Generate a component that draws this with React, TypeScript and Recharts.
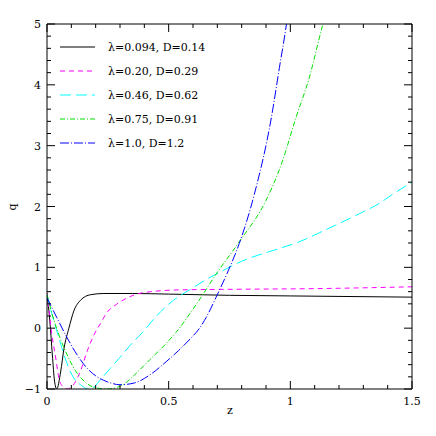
import { LineChart, Line, XAxis, YAxis } from 'recharts';

// curve samples: z along x, q up the side
const curveBlack = [
  { z: 0, q: 0.52 }, { z: 0.006, q: 0.35 }, { z: 0.012, q: 0.1 }, { z: 0.022, q: -0.44 },
  { z: 0.031, q: -0.87 }, { z: 0.04, q: -1.0 }, { z: 0.056, q: -0.72 }, { z: 0.07, q: -0.33 },
  { z: 0.09, q: 0.0 }, { z: 0.11, q: 0.28 }, { z: 0.138, q: 0.46 }, { z: 0.179, q: 0.55 },
  { z: 0.234, q: 0.57 }, { z: 0.35, q: 0.57 }, { z: 0.5, q: 0.56 }, { z: 0.75, q: 0.54 },
  { z: 1.0, q: 0.53 }, { z: 1.5, q: 0.51 },
];

const curveMagenta = [
  { z: 0, q: 0.58 }, { z: 0.008, q: 0.3 }, { z: 0.018, q: -0.05 }, { z: 0.036, q: -0.49 },
  { z: 0.049, q: -0.82 }, { z: 0.065, q: -0.96 }, { z: 0.083, q: -1.0 }, { z: 0.1, q: -0.97 },
  { z: 0.117, q: -0.88 }, { z: 0.138, q: -0.7 }, { z: 0.165, q: -0.38 }, { z: 0.193, q: -0.11 },
  { z: 0.22, q: 0.08 }, { z: 0.245, q: 0.25 }, { z: 0.285, q: 0.39 }, { z: 0.326, q: 0.49 },
  { z: 0.39, q: 0.58 }, { z: 0.55, q: 0.63 }, { z: 0.8, q: 0.64 }, { z: 1.1, q: 0.65 },
  { z: 1.5, q: 0.68 },
];

const curveCyan = [
  { z: 0, q: 0.56 }, { z: 0.012, q: 0.35 }, { z: 0.029, q: 0.11 }, { z: 0.049, q: -0.16 },
  { z: 0.07, q: -0.44 }, { z: 0.09, q: -0.66 }, { z: 0.11, q: -0.82 }, { z: 0.138, q: -0.93 },
  { z: 0.17, q: -1.0 }, { z: 0.195, q: -0.96 }, { z: 0.217, q: -0.86 }, { z: 0.26, q: -0.66 },
  { z: 0.3, q: -0.48 }, { z: 0.34, q: -0.29 }, { z: 0.39, q: -0.08 }, { z: 0.45, q: 0.2 },
  { z: 0.52, q: 0.46 }, { z: 0.586, q: 0.63 }, { z: 0.65, q: 0.79 }, { z: 0.71, q: 0.92 },
  { z: 0.8, q: 1.1 }, { z: 0.955, q: 1.31 }, { z: 1.037, q: 1.42 }, { z: 1.12, q: 1.57 },
  { z: 1.2, q: 1.72 }, { z: 1.283, q: 1.88 }, { z: 1.365, q: 2.05 }, { z: 1.42, q: 2.2 },
  { z: 1.5, q: 2.4 },
];

const curveGreen = [
  { z: 0, q: 0.55 }, { z: 0.022, q: 0.22 }, { z: 0.049, q: -0.11 }, { z: 0.083, q: -0.44 },
  { z: 0.117, q: -0.7 }, { z: 0.152, q: -0.87 }, { z: 0.193, q: -0.97 }, { z: 0.245, q: -1.0 },
  { z: 0.29, q: -0.97 }, { z: 0.32, q: -0.91 }, { z: 0.354, q: -0.79 }, { z: 0.422, q: -0.52 },
  { z: 0.49, q: -0.25 }, { z: 0.53, q: -0.07 }, { z: 0.62, q: 0.43 }, { z: 0.697, q: 0.9 },
  { z: 0.79, q: 1.42 }, { z: 0.9, q: 2.1 }, { z: 0.968, q: 2.75 }, { z: 1.023, q: 3.46 },
  { z: 1.078, q: 4.12 }, { z: 1.13, q: 4.94 }, { z: 1.17, q: 5.5 },
];

const curveBlue = [
  { z: 0, q: 0.5 }, { z: 0.042, q: 0.16 }, { z: 0.083, q: -0.16 }, { z: 0.124, q: -0.44 },
  { z: 0.165, q: -0.66 }, { z: 0.206, q: -0.8 }, { z: 0.247, q: -0.88 }, { z: 0.3, q: -0.93 },
  { z: 0.36, q: -0.9 }, { z: 0.422, q: -0.77 }, { z: 0.49, q: -0.55 }, { z: 0.54, q: -0.37 },
  { z: 0.59, q: -0.17 }, { z: 0.627, q: 0.0 }, { z: 0.66, q: 0.22 }, { z: 0.695, q: 0.51 },
  { z: 0.74, q: 0.9 }, { z: 0.79, q: 1.39 }, { z: 0.852, q: 2.2 }, { z: 0.922, q: 3.46 },
  { z: 0.955, q: 4.28 }, { z: 0.984, q: 5.0 }, { z: 1.0, q: 5.5 },
];

const seriesLabels = [
  'λ=0.094, D=0.14',
  'λ=0.20, D=0.29',
  'λ=0.46, D=0.62',
  'λ=0.75, D=0.91',
  'λ=1.0, D=1.2',
];
const seriesColors = ['#000000', '#ff00ff', '#00ffff', '#00e000', '#0000ff'];
const seriesDash = ['', '5 4', '11 5', '5 2 1 2', '9 2 1 2'];
const seriesData = [curveBlack, curveMagenta, curveCyan, curveGreen, curveBlue];

const majorZ = [0, 0.5, 1, 1.5];
const majorQ = [-1, 0, 1, 2, 3, 4, 5];
const zTicks = Array.from({ length: 16 }, (_, i) => +(i * 0.1).toFixed(1));
const qTicks = Array.from({ length: 31 }, (_, i) => +(-1 + i * 0.2).toFixed(1));

const FONT = '"DejaVu Serif", serif';
const isMajor = (v: number, list: number[]) => list.some((m) => Math.abs(m - v) < 1e-6);
const fmt = (v: number) => (v < 0 ? '\u2212' + Math.abs(v) : String(v));

// side: which frame edge the tick sits on; marks point into the plot
const renderTick = (side: 'bottom' | 'top' | 'left' | 'right', majors: number[]) => (props: any) => {
  const { x, y, payload } = props;
  const major = isMajor(payload.value, majors);
  const len = major ? 8 : 4;
  let d = '';
  if (side === 'bottom') d = `M${x},${y}L${x},${y - len}`;
  if (side === 'top') d = `M${x},${y}L${x},${y + len}`;
  if (side === 'left') d = `M${x},${y}L${x + len},${y}`;
  if (side === 'right') d = `M${x},${y}L${x - len},${y}`;
  return (
    <g>
      <path d={d} stroke="#000" strokeWidth={1} fill="none" />
      {major && side === 'bottom' && (
        <text x={x} y={y + 16} textAnchor="middle" fontSize={11} fontFamily={FONT} fill="#000">
          {fmt(payload.value)}
        </text>
      )}
      {major && side === 'left' && (
        <text x={x - 6} y={y + 4} textAnchor="end" fontSize={11} fontFamily={FONT} fill="#000">
          {fmt(payload.value)}
        </text>
      )}
    </g>
  );
};

export default function App() {
  return (
    <div style={{ position: 'absolute', left: 0, top: 0, width: 436, height: 436, background: '#fff' }}>
      <LineChart width={436} height={436} margin={{ top: 23, right: 23, bottom: 17, left: 7 }}>
        <XAxis
          dataKey="z" type="number" domain={[0, 1.5]} ticks={zTicks} interval={0}
          allowDataOverflow height={30} tickSize={0} tickMargin={0} tickLine={false}
          axisLine={{ stroke: '#000' }} tick={renderTick('bottom', majorZ)}
        />
        <XAxis
          xAxisId="top" orientation="top" dataKey="z" type="number" domain={[0, 1.5]} ticks={zTicks}
          interval={0} allowDataOverflow height={1} tickSize={0} tickMargin={0} tickLine={false}
          axisLine={{ stroke: '#000' }} tick={renderTick('top', majorZ)}
        />
        <YAxis
          type="number" domain={[-1, 5]} ticks={qTicks} interval={0} allowDataOverflow width={40}
          tickSize={0} tickMargin={0} tickLine={false} axisLine={{ stroke: '#000' }}
          tick={renderTick('left', majorQ)}
        />
        <YAxis
          yAxisId="right" orientation="right" type="number" domain={[-1, 5]} ticks={qTicks} interval={0}
          allowDataOverflow width={1} tickSize={0} tickMargin={0} tickLine={false}
          axisLine={{ stroke: '#000' }} tick={renderTick('right', majorQ)}
        />
        {seriesData.map((d, i) => (
          <Line
            key={i} data={d} dataKey="q" type="monotone" stroke={seriesColors[i]}
            strokeWidth={1} strokeDasharray={seriesDash[i] || undefined} dot={false}
            isAnimationActive={false}
          />
        ))}
      </LineChart>
      <svg width={436} height={436} style={{ position: 'absolute', left: 0, top: 0, pointerEvents: 'none' }}>
        {seriesLabels.map((label, i) => (
          <g key={label}>
            <line
              x1={60} x2={95} y1={47 + i * 24} y2={47 + i * 24} stroke={seriesColors[i]}
              strokeDasharray={seriesDash[i] || undefined}
            />
            <text x={108} y={51 + i * 24} fontSize={11} fontFamily={FONT} fill="#000">{label}</text>
          </g>
        ))}
        <text x={230} y={414} textAnchor="middle" fontSize={11} fontFamily={FONT}>z</text>
        <text x={16} y={207} textAnchor="middle" fontSize={11} fontFamily={FONT} transform="rotate(-90 16 207)">q</text>
      </svg>
    </div>
  );
}
